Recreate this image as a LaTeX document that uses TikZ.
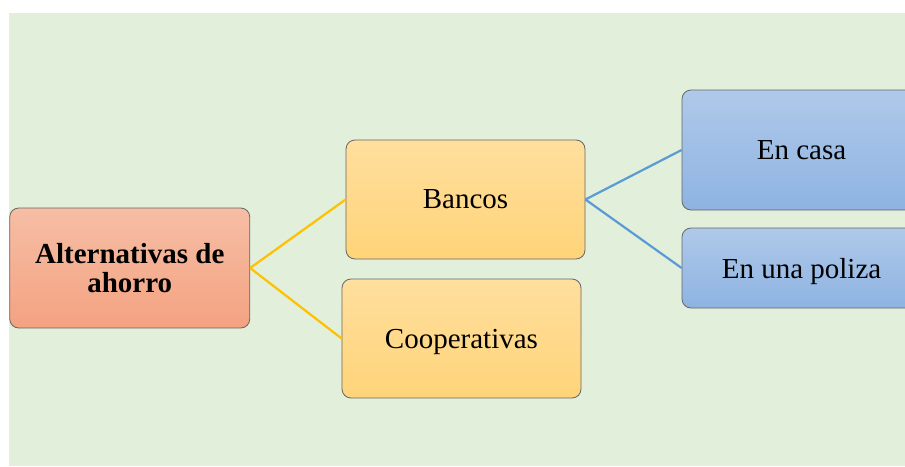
\documentclass[tikz,border=0pt]{standalone}
\usepackage{fontspec}
\setmainfont{Liberation Serif}
\begin{document}
\begin{tikzpicture}[x=1pt,y=-1pt,
  box/.style={rectangle, rounded corners=9pt, draw=black!60, line width=0.8pt,
    inner sep=0pt, align=center, font=\fontsize{29}{30}\selectfont},
  rootbox/.style={box, top color=rootTop, bottom color=rootBot,
    minimum width=240pt, minimum height=120pt, font=\fontsize{29}{29.5}\selectfont\bfseries},
  midbox/.style={box, top color=midTop, bottom color=midBot, text depth=0pt,
    minimum width=239pt, minimum height=119pt},
  leafbox/.style={box, top color=leafTop, bottom color=leafBot, text depth=0pt,
    minimum width=239pt},
  orangelink/.style={draw=linkOrange, line width=2.2pt},
  bluelink/.style={draw=linkBlue, line width=2.2pt}]
\definecolor{bg}{HTML}{E2EFDA}
\definecolor{rootTop}{HTML}{F6BEA5}
\definecolor{rootBot}{HTML}{F4A281}
\definecolor{midTop}{HTML}{FFDF9E}
\definecolor{midBot}{HTML}{FFD479}
\definecolor{leafTop}{HTML}{AFC9E9}
\definecolor{leafBot}{HTML}{8EB3E2}
\definecolor{linkOrange}{HTML}{FFC000}
\definecolor{linkBlue}{HTML}{5B9BD5}

\clip (0,0) rectangle (905,466);
\fill[white] (0,0) rectangle (905,466);
\fill[bg] (9,13) rectangle (905,466);

\node[rootbox] (root) at (129.75,268) {Alternativas de\\ahorro};
\node[midbox] (bancos) at (465.5,199.5) {Bancos};
\node[midbox] (coop) at (461.5,338.5) {Cooperativas};
\node[leafbox, minimum height=120pt] (casa) at (801.5,150) {En casa};
\node[leafbox, minimum height=80pt] (poliza) at (801.5,268) {En una poliza};

\draw[orangelink] (root.east) -- (bancos.west);
\draw[orangelink] (root.east) -- (coop.west);
\draw[bluelink] (bancos.east) -- (casa.west);
\draw[bluelink] (bancos.east) -- (poliza.west);
\end{tikzpicture}
\end{document}
